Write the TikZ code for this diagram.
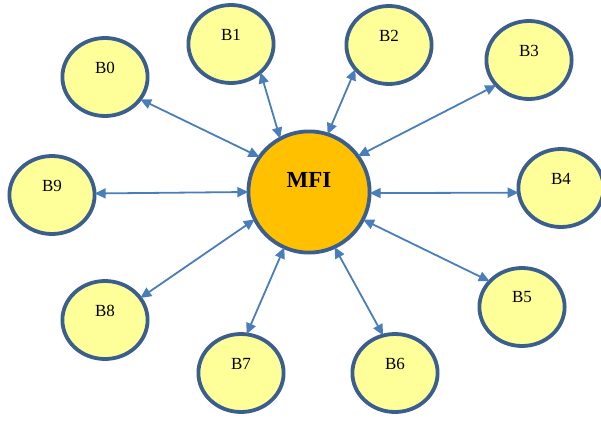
\documentclass[tikz,border=0pt]{standalone}
\usepackage{fontspec}
\setmainfont{Liberation Serif}
\usetikzlibrary{shapes.geometric,arrows.meta}
\definecolor{rimblue}{HTML}{3A5E8E}
\definecolor{linkblue}{HTML}{4A7EBB}
\definecolor{paleyellow}{HTML}{FFFF99}
\definecolor{hubgold}{HTML}{FFC000}
\tikzset{
  bnode/.style={ellipse, draw=rimblue, line width=3.8pt, fill=paleyellow,
    minimum width=85.2pt, minimum height=78pt, inner sep=0pt},
  hubnode/.style={circle, draw=rimblue, line width=3.8pt, fill=hubgold,
    minimum size=121.2pt, inner sep=0pt},
  blabel/.style={font=\fontsize{17}{17}\selectfont, inner sep=0pt},
  hublabel/.style={font=\fontsize{23}{23}\selectfont\bfseries, inner sep=0pt},
  link/.style={draw=linkblue, line width=1.8pt,
    {Triangle[length=11pt,width=10pt]}-{Triangle[length=11pt,width=10pt]},
    shorten <=-1.8pt, shorten >=-1.8pt}
}
\begin{document}
\begin{tikzpicture}[x=1pt,y=-1pt]
\useasboundingbox (0,0) rectangle (601,420);

% hub
\node[hubnode] (mfi) at (309,192) {};
\node[hublabel] (mfit) at (309,180) {MFI};

% satellites
\foreach \n/\x/\y in {0/105/77, 1/231/44, 2/389/45, 3/529/60, 4/561/188,
                      5/522/307, 6/395/373, 7/241/373, 8/105/320, 9/52/195}{
  \node[bnode] (b\n) at (\x,\y) {};
  \node[blabel] (b\n t) at (\x,\y-9.5) {B\n};
}

% two-way links between hub and satellites
\path[link] (b0.-32)   -- (mfi.145);
\path[link] (b1.-45)   -- (mfi.118);
\path[link] (b2.217.6) -- (mfi.72);
\path[link] (b3.217)   -- (mfi.36.5);
\path[link] (b4.186)   -- (mfi.-1);
\path[link] (b5.142)   -- (mfi.-27.4);
\path[link] (b6.108)   -- (mfi.-65);
\path[link] (b7.81.5)  -- (mfi.246.4);
\path[link] (b8.32)    -- (mfi.207.8);
\path[link] (b9.2.5)   -- (mfi.180);
\end{tikzpicture}
\end{document}
